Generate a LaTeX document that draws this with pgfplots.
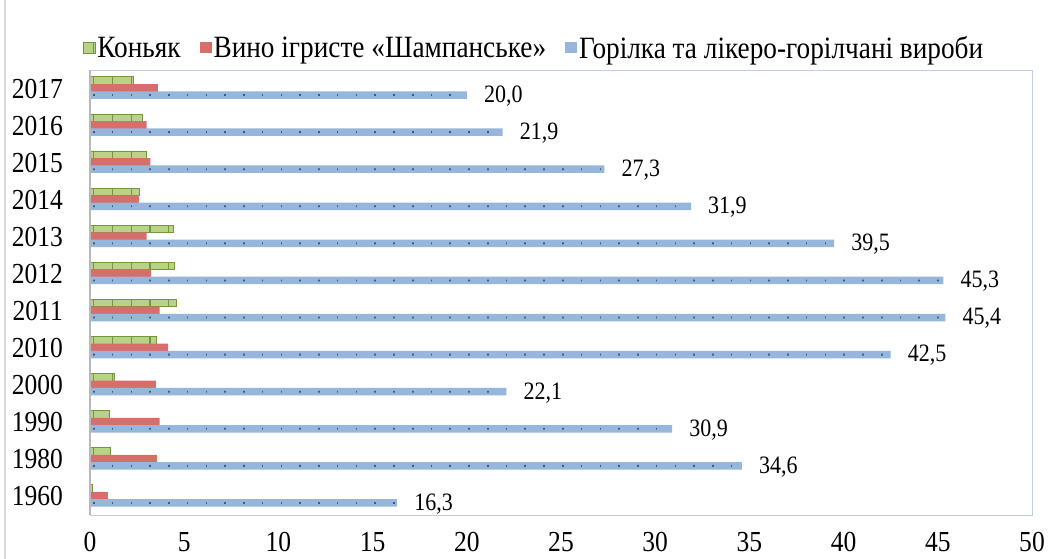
\documentclass[border=0pt]{standalone}
\usepackage{fontspec}
\setmainfont{Liberation Serif}[FakeStretch=0.88]
\usepackage{pgfplots}
\pgfplotsset{compat=1.18}
\usetikzlibrary{patterns.meta}

\definecolor{kgreen}{RGB}{184,210,134}
\definecolor{kgreendark}{RGB}{118,150,62}
\definecolor{wred}{RGB}{216,110,108}
\definecolor{hblue}{RGB}{150,182,220}
\definecolor{hbluedark}{RGB}{60,90,135}
\definecolor{boxblue}{RGB}{188,207,230}

% values: 1960 ... 2017
\pgfplotstableread{
y  konyak vyno horilka
0  0.1    0.95 16.3
1  1.1    3.55 34.6
2  1.0    3.7  30.9
3  1.3    3.5  22.1
4  3.5    4.15 42.5
5  4.6    3.7  45.4
6  4.5    3.25 45.3
7  4.4    3.0  39.5
8  2.6    2.6  31.9
9  3.0    3.2  27.3
10 2.8    3.0  21.9
11 2.3    3.6  20.0
}\datatable

\begin{document}
\begin{tikzpicture}[x=1pt,y=1pt]
\useasboundingbox (0,0) rectangle (1049,559);
\fill[white] (0,0) rectangle (1049,559);
\draw[gray!30, line width=1.2pt] (5,-2) -- (5,561);
\begin{axis}[
  at={(90pt,44pt)}, anchor=south west,
  width=942pt, height=445pt, scale only axis,
  xbar, bar width=7.5pt,
  xmin=0, xmax=50, xtick={0,5,...,50},
  ymin=-0.5, ymax=11.5, ytick={0,...,11},
  yticklabels={1960,1980,1990,2000,2010,2011,2012,2013,2014,2015,2016,2017},
  major tick length=0pt,
  axis line style={draw=boxblue, line width=0.8pt},
  tick label style={font=\fontsize{29}{29}\selectfont, inner sep=0pt},
  /pgf/number format/assume math mode=true,
  xticklabel style={anchor=north, yshift=-17pt},
  yticklabel style={anchor=east, xshift=-27pt},
  legend style={at={(-0.008,1.05)}, anchor=west, draw=none, fill=none,
    inner sep=0pt,
    nodes={font=\fontsize{31}{31}\selectfont, inner sep=2pt},
    /tikz/every even column/.append style={column sep=17pt}},
  legend columns=-1,
  legend image code/.code={\fill[#1] (0pt,-5.5pt) rectangle (12pt,5.5pt);},
  clip=false,
]
\addplot[fill=kgreen, draw=kgreendark, line width=0.6pt, bar shift=8pt, bar width=7.5pt,
  postaction={pattern={Lines[angle=90, distance=18.76pt, line width=1.3pt]}, pattern color=kgreendark}]
  table[x=konyak, y=y] {\datatable};
\addlegendentry{Коньяк}
\addplot[fill=wred, draw=none, bar shift=0.5pt, bar width=8pt]
  table[x=vyno, y=y] {\datatable};
\addlegendentry{Вино ігристе «Шампанське»}
\addplot[fill=hblue, draw=none, bar shift=-6.5pt, bar width=7.5pt,
  point meta=x, nodes near coords,
  nodes near coords style={anchor=west, xshift=17pt, yshift=-1pt,
    font=\fontsize{25}{25}\selectfont, inner sep=0pt,
    /pgf/number format/.cd, fixed, fixed zerofill, precision=1, use comma, assume math mode=true}]
  table[x=horilka, y=y] {\datatable};
\addlegendentry{Горілка та лікеро-горілчані вироби}
% dots along the blue bars
\addplot[forget plot, draw=none, fill=none, bar shift=-6.5pt, bar width=1.8pt,
  postaction={pattern={Lines[angle=90, distance=18.76pt, line width=1.6pt]}, pattern color=hbluedark}]
  table[x=horilka, y=y] {\datatable};
\draw[gray!55, line width=2pt] (rel axis cs:0,0) -- (rel axis cs:0,1);
\end{axis}
\end{tikzpicture}
\end{document}
